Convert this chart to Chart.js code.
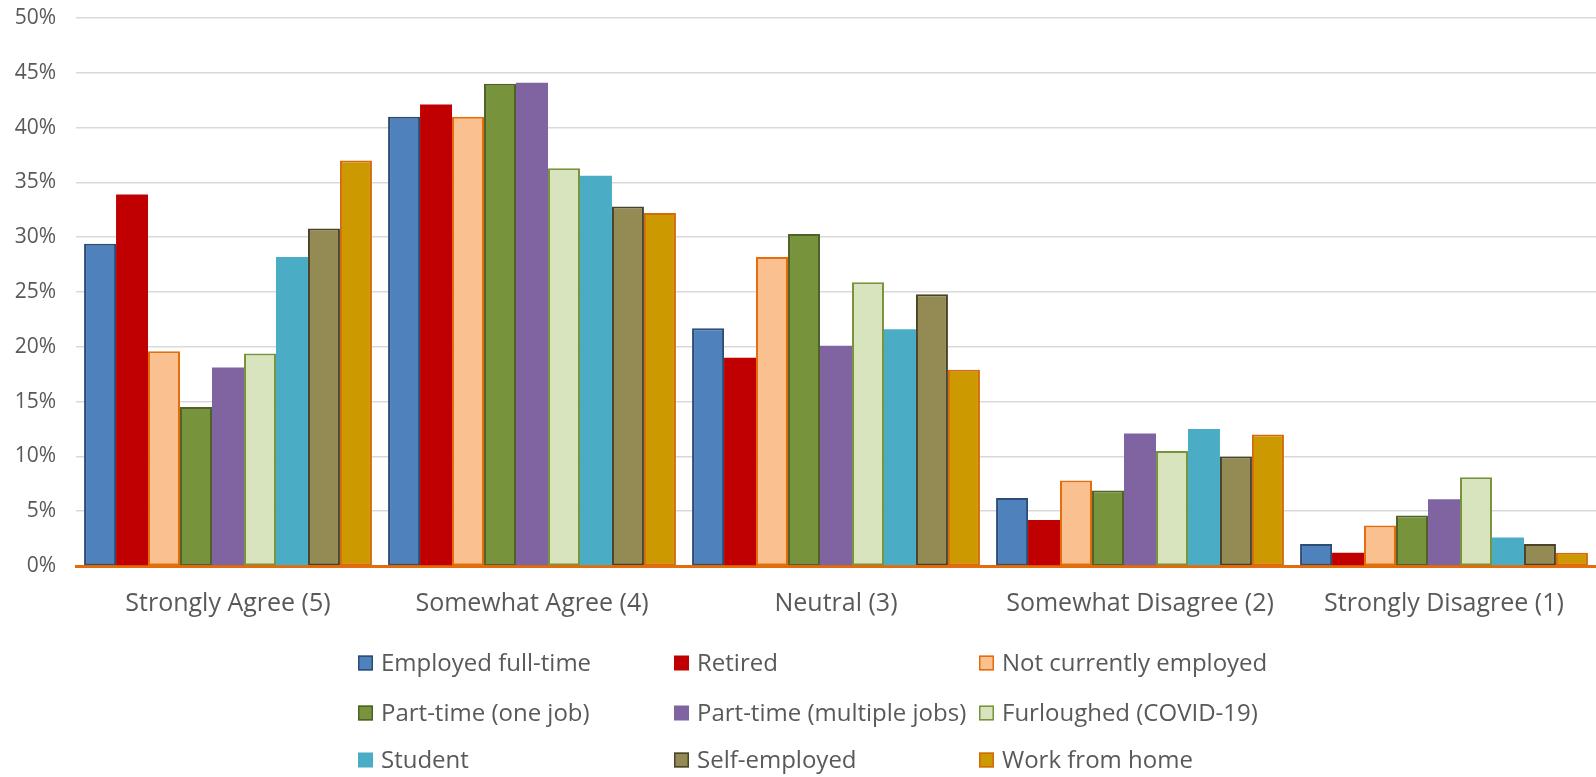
<!DOCTYPE html>
<html>
<head>
<meta charset="utf-8">
<script src="https://cdn.jsdelivr.net/npm/chart.js@4/dist/chart.umd.min.js"></script>
<style>
html,body{margin:0;padding:0;background:#fff;}
#wrap{width:1596px;height:777px;position:relative;}
</style>
</head>
<body>
<div id="wrap"><canvas id="c" width="1596" height="777"></canvas></div>
<script>
const categories = ["Strongly Agree (5)", "Somewhat Agree (4)", "Neutral (3)", "Somewhat Disagree (2)", "Strongly Disagree (1)"];
const seriesNames = ["Employed full-time", "Retired", "Not currently employed", "Part-time (one job)", "Part-time (multiple jobs)", "Furloughed (COVID-19)", "Student", "Self-employed", "Work from home"];
const employedFullTime   = [29.4, 41.0, 21.7, 6.2, 2.0];
const retired            = [33.9, 42.1, 19.0, 4.2, 1.2];
const notEmployed        = [19.6, 41.0, 28.2, 7.8, 3.7];
const partTimeOne        = [14.5, 44.0, 30.3, 6.9, 4.6];
const partTimeMultiple   = [18.1, 44.1, 20.1, 12.1, 6.1];
const furloughed         = [19.4, 36.3, 25.9, 10.5, 8.1];
const student            = [28.2, 35.6, 21.6, 12.5, 2.6];
const selfEmployed       = [30.8, 32.8, 24.8, 10.0, 2.0];
const workFromHome       = [37.0, 32.2, 17.9, 12.0, 1.2];
const yTicks = [0, 5, 10, 15, 20, 25, 30, 35, 40, 45, 50];

const seriesValues = [employedFullTime, retired, notEmployed, partTimeOne, partTimeMultiple, furloughed, student, selfEmployed, workFromHome];
const fills   = ["#4F81BD", "#C00000", "#FAC090", "#77933C", "#8064A2", "#D7E4BD", "#4BACC6", "#948A54", "#CC9900"];
const borders = ["#2C4D75", "#C00000", "#E46C0A", "#4F6228", "#8064A2", "#77933C", "#4BACC6", "#494429", "#D46A0A"];
const bWidths = [2, 0, 2, 2, 0, 2, 0, 2, 2];

const FONT = "'Open Sans'";
const TXT = "#595959";

const datasets = seriesNames.map((n, i) => ({
  label: n,
  data: seriesValues[i],
  backgroundColor: fills[i],
  borderColor: borders[i],
  borderWidth: bWidths[i],
  borderSkipped: false,
  categoryPercentage: 0.947,
  barPercentage: 1.0
}));

const LEG_COL_X = [358, 674, 979];
const LEG_ROW_Y = [663, 713, 760];
const gridLegend = {
  id: 'gridLegend',
  afterDraw(chart) {
    const ctx = chart.ctx;
    ctx.save();
    ctx.font = "24px " + FONT;
    ctx.textBaseline = "middle";
    ctx.textAlign = "left";
    chart.data.datasets.forEach((ds, i) => {
      const x = LEG_COL_X[i % 3], y = LEG_ROW_Y[Math.floor(i / 3)];
      const s = 15;
      ctx.fillStyle = ds.backgroundColor;
      ctx.fillRect(x, y - s / 2, s, s);
      if (ds.borderWidth > 0) {
        ctx.strokeStyle = ds.borderColor;
        ctx.lineWidth = 1.5;
        ctx.strokeRect(x + 0.75, y - s / 2 + 0.75, s - 1.5, s - 1.5);
      }
      ctx.fillStyle = TXT;
      ctx.fillText(ds.label, x + 23, y + 1);
    });
    ctx.restore();
  }
};

new Chart(document.getElementById("c"), {
  type: "bar",
  data: { labels: categories, datasets },
  plugins: [gridLegend],
  options: {
    responsive: false,
    animation: false,
    layout: { padding: { top: 18, right: 0, left: 0, bottom: 0 } },
    plugins: { legend: { display: false }, tooltip: { enabled: false } },
    scales: {
      x: {
        z: 1,
        grid: { display: false, drawTicks: false },
        border: { display: true, color: "#E46C0A", width: 3 },
        ticks: { color: TXT, font: { family: FONT, size: 25 }, padding: 23, maxRotation: 0 },
        afterFit(s) { s.height = 211; s.paddingLeft = 0; s.paddingRight = 0; }
      },
      y: {
        min: 0, max: 50,
        afterBuildTicks(s) { s.ticks = yTicks.map(v => ({ value: v })); },
        grid: { color: "#D9D9D9", lineWidth: 1.5, drawTicks: false },
        border: { display: false },
        ticks: { color: TXT, font: { family: FONT, size: 21 }, padding: 20, callback: v => v + "%" },
        afterFit(s) { s.width = 76; s.paddingTop = 0; s.paddingBottom = 0; }
      }
    }
  }
});
</script>
</body>
</html>
